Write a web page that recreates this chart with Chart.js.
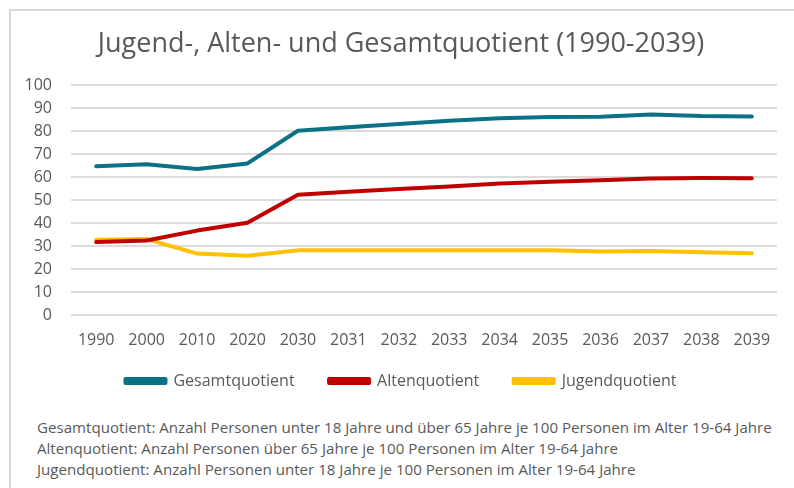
<!DOCTYPE html>
<html lang="de">
<head>
<meta charset="utf-8">
<script src="https://cdn.jsdelivr.net/npm/chart.js@4.4.1/dist/chart.umd.min.js"></script>
<style>
    html, body { margin: 0; padding: 0; background: #fff; }
    #wrap { position: relative; width: 794px; height: 488px; overflow: hidden; font-family: "Open Sans", sans-serif; }
    #frame { position: absolute; left: 9px; top: 9px; width: 800px; height: 500px; border-left: 2px solid #d9d9d9; border-top: 2px solid #d9d9d9; }
    #chart-box { position: absolute; left: 0; top: 0; width: 794px; height: 399px; }
    #notes { position: absolute; left: 37px; top: 417px; color: #595959; font-size: 14px; line-height: 21px; white-space: nowrap; transform-origin: 0 0; }
</style>
</head>
<body>
<div id="wrap">
    <div id="frame"></div>
    <div id="chart-box"><canvas id="chart" width="794" height="399"></canvas></div>
    <div id="notes">
        <div id="note1">Gesamtquotient: Anzahl Personen unter 18 Jahre und über 65 Jahre je 100 Personen im Alter 19-64 Jahre</div>
        <div>Altenquotient: Anzahl Personen über 65 Jahre je 100 Personen im Alter 19-64 Jahre</div>
        <div>Jugendquotient: Anzahl Personen unter 18 Jahre je 100 Personen im Alter 19-64 Jahre</div>
    </div>
</div>
<script>
(function () {
    // --- Data ---
    const years = ['1990', '2000', '2010', '2020', '2030', '2031', '2032', '2033', '2034', '2035', '2036', '2037', '2038', '2039'];
    const gesamt = [64.7, 65.5, 63.5, 65.9, 80.1, 81.6, 83.0, 84.5, 85.5, 86.1, 86.2, 87.2, 86.5, 86.3];
    const alten = [31.7, 32.4, 36.7, 40.1, 52.3, 53.6, 54.8, 55.9, 57.2, 57.9, 58.6, 59.3, 59.6, 59.5];
    const jugend = [32.7, 33.0, 26.7, 25.8, 28.1, 28.2, 28.1, 28.1, 28.2, 28.2, 27.6, 27.8, 27.3, 26.8];

    const COLORS = {
        gesamt: '#0b7285',
        alten: '#c00000',
        jugend: '#ffc000'
    };
    const TEXT = '#595959';

    function lineSet(label, data, color) {
        return {
            label: label,
            data: data,
            borderColor: color,
            backgroundColor: color,
            borderWidth: 4,
            borderCapStyle: 'round',
            borderJoinStyle: 'round',
            pointRadius: 0,
            tension: 0
        };
    }

    new Chart(document.getElementById('chart').getContext('2d'), {
        type: 'line',
        data: {
            labels: years,
            datasets: [
                lineSet('Gesamtquotient', gesamt, COLORS.gesamt),
                lineSet('Altenquotient', alten, COLORS.alten),
                lineSet('Jugendquotient', jugend, COLORS.jugend)
            ]
        },
        options: {
            responsive: false,
            animation: false,
            layout: { padding: { left: 25, right: 17, top: 0, bottom: 0 } },
            plugins: {
                title: {
                    display: true,
                    text: 'Jugend-, Alten- und Gesamtquotient (1990-2039)',
                    color: TEXT,
                    font: { family: 'Open Sans', size: 27, weight: 'normal' },
                    padding: { top: 28, bottom: 24.6 }
                },
                legend: {
                    position: 'bottom',
                    labels: {
                        color: TEXT,
                        font: { family: 'Open Sans', size: 16 },
                        boxWidth: 40,
                        boxHeight: 4,
                        padding: 22,
                        // wider gaps between the items, like the original
                        generateLabels: function (chart) {
                            const items = Chart.defaults.plugins.legend.labels.generateLabels(chart);
                            items.forEach(function (it, i) {
                                if (i < items.length - 1) it.text += '   ';
                            });
                            return items;
                        }
                    }
                },
                tooltip: { enabled: false }
            },
            scales: {
                x: {
                    offset: true,
                    afterFit: function (scale) { scale.height = 36; },
                    grid: { display: false, drawTicks: false },
                    border: { display: false },
                    ticks: {
                        color: TEXT,
                        font: { family: 'Open Sans', size: 16 },
                        padding: 16,
                        maxRotation: 0,
                        autoSkip: false
                    }
                },
                y: {
                    min: 0,
                    max: 100,
                    afterFit: function (scale) { scale.width = 46; },
                    grid: { color: '#dcdcdc', lineWidth: 2, drawTicks: false },
                    border: { display: false },
                    ticks: {
                        stepSize: 10,
                        autoSkip: false,
                        color: TEXT,
                        font: { family: 'Open Sans', size: 16 },
                        padding: 19
                    }
                }
            }
        }
    });

    // --- Footnote width (condensed face in the original) ---
    const notes = document.getElementById('notes');
    const w = document.getElementById('note1').scrollWidth;
    notes.style.transform = 'scaleX(' + (735 / w) + ')';
})();
</script>
</body>
</html>
